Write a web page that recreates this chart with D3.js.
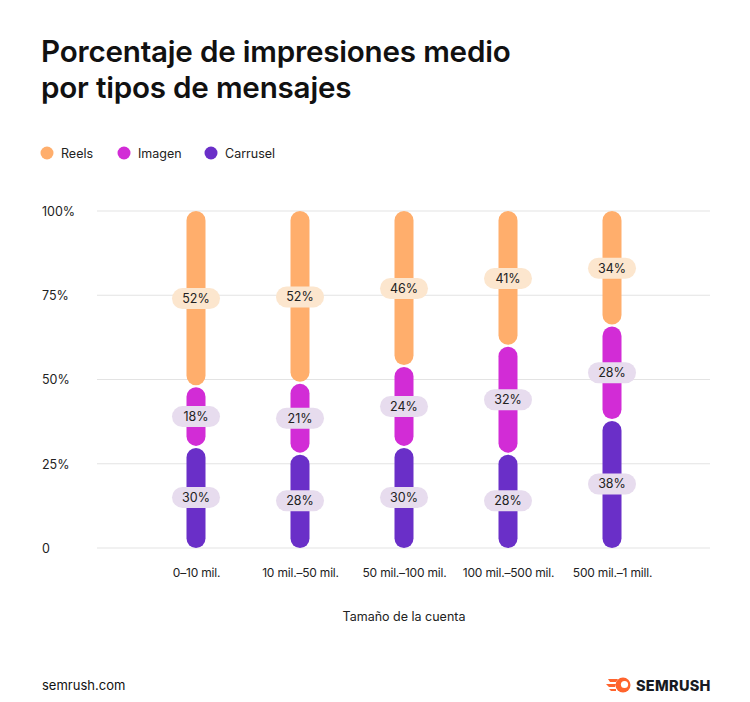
<!DOCTYPE html>
<html>
<head>
<meta charset="utf-8">
<script src="https://cdn.jsdelivr.net/npm/d3@7"></script>
<style>
  html, body { margin: 0; padding: 0; background: #fff; }
  svg { display: block; font-family: Inter, "Noto Sans", sans-serif; }
</style>
</head>
<body>
<svg id="chart" width="750" height="702"></svg>
<script>
const categories = ["0–10 mil.", "10 mil.–50 mil.", "50 mil.–100 mil.", "100 mil.–500 mil.", "500 mil.–1 mill."];
const seriesNames = ["Reels", "Imagen", "Carrusel"];
const reels = [52, 52, 46, 41, 34];
const imagen = [18, 21, 24, 32, 28];
const carrusel = [30, 28, 30, 28, 38];
const yTicks = [0, 25, 50, 75, 100];
const yTickLabels = ["0", "25%", "50%", "75%", "100%"];

const colors = { Reels: "#FFAE6C", Imagen: "#D22CD6", Carrusel: "#6A2FC8" };
const labelBg = { Reels: "#FCE6CE", Imagen: "#E7DCEE", Carrusel: "#E7DCEE" };

const svg = d3.select("#chart");

// Title
svg.append("text").attr("x", 41).attr("y", 62)
  .attr("font-size", 29.6).attr("font-weight", 600).attr("fill", "#111")
  .attr("letter-spacing", -0.2)
  .text("Porcentaje de impresiones medio");
svg.append("text").attr("x", 41).attr("y", 98)
  .attr("font-size", 29.6).attr("font-weight", 600).attr("fill", "#111")
  .attr("letter-spacing", -0.2)
  .text("por tipos de mensajes");

// Legend
const legendX = [47, 124, 211];
seriesNames.forEach((s, i) => {
  const g = svg.append("g").attr("transform", `translate(${legendX[i]},153)`);
  g.append("circle").attr("r", 6.5).attr("fill", colors[s]);
  g.append("text").attr("x", 14).attr("y", 4.5).attr("font-size", 12.5).attr("fill", "#222").text(s);
});

// Scales
const x = d3.scalePoint().domain(categories).range([196, 612]);
const y = d3.scaleLinear().domain([0, 100]).range([548, 211]);

// Grid
const grid = svg.append("g");
grid.selectAll("line").data(yTicks).join("line")
  .attr("x1", 97).attr("x2", 710)
  .attr("y1", d => y(d)).attr("y2", d => y(d))
  .attr("stroke", "#e3e3e3").attr("stroke-width", 1.2);

// Y axis labels
const yAxis = d3.axisLeft(y).tickValues(yTicks).tickFormat((d, i) => yTickLabels[i]).tickSize(0);
const yg = svg.append("g").attr("transform", "translate(42,0)").call(yAxis);
yg.select(".domain").remove();
yg.selectAll("text").attr("text-anchor", "start").attr("x", 0).attr("dy", "0.35em")
  .attr("font-size", 12.5).attr("fill", "#222").attr("font-family", "Inter, 'Noto Sans', sans-serif");

// X axis labels
const xAxis = d3.axisBottom(x).tickSize(0);
const xg = svg.append("g").attr("transform", "translate(0,567)").call(xAxis);
xg.select(".domain").remove();
xg.selectAll("text").attr("font-size", 12).attr("fill", "#222").attr("dy", "0.6em")
  .attr("font-family", "Inter, 'Noto Sans', sans-serif").attr("letter-spacing", -0.2);

// Axis title
svg.append("text").attr("x", 404).attr("y", 621).attr("text-anchor", "middle")
  .attr("font-size", 12.5).attr("fill", "#222").text("Tamaño de la cuenta");

// Stack data
const rows = categories.map((c, i) => ({ cat: c, Reels: reels[i], Imagen: imagen[i], Carrusel: carrusel[i] }));
const stack = d3.stack().keys(["Carrusel", "Imagen", "Reels"]);
const stacked = stack(rows);

const barW = 19;
const gap = 1;
const segs = [];
stacked.forEach(layer => {
  layer.forEach(d => {
    const y0 = d[0], y1 = Math.min(d[1], 100);
    segs.push({ key: layer.key, cat: d.data.cat, y0, y1, value: d.data[layer.key] });
  });
});

const bars = svg.append("g");
bars.selectAll("rect").data(segs).join("rect")
  .attr("x", d => x(d.cat) - barW / 2)
  .attr("width", barW)
  .attr("y", d => y(d.y1) + (d.y1 < 100 ? gap : 0))
  .attr("height", d => y(d.y0) - y(d.y1) - (d.y1 < 100 ? gap : 0) - (d.y0 > 0 ? gap : 0))
  .attr("rx", barW / 2)
  .attr("fill", d => colors[d.key]);

// Labels
const lw = 48, lh = 21;
const lab = svg.append("g").selectAll("g").data(segs).join("g")
  .attr("transform", d => `translate(${x(d.cat)},${y((d.y0 + d.y1) / 2)})`);
lab.append("rect").attr("x", -lw / 2).attr("y", -lh / 2).attr("width", lw).attr("height", lh)
  .attr("rx", lh / 2).attr("fill", d => labelBg[d.key]);
lab.append("text").attr("text-anchor", "middle").attr("dy", "0.36em")
  .attr("font-size", 12.5).attr("fill", "#222").text(d => d.value + "%");

// Footer
svg.append("text").attr("x", 42).attr("y", 690).attr("font-size", 13).attr("fill", "#111").text("semrush.com");

// Logo
const logo = svg.append("g").attr("transform", "translate(606,685)");
logo.append("path")
  .attr("d", "M2,-6 L12,-6 L10,-3 L4,-3 Z M0,-1 L10,-1 L9,2 L3,2 Z M3,4 L10,4 L10,6 L5,6 Z")
  .attr("fill", "#FF642D");
logo.append("circle").attr("cx", 17).attr("cy", 0).attr("r", 7.5).attr("fill", "#FF642D");
logo.append("circle").attr("cx", 18.5).attr("cy", -0.5).attr("r", 3.6).attr("fill", "#fff");
logo.append("text").attr("x", 30).attr("y", 5.5).attr("font-size", 14.5).attr("font-weight", 800)
  .attr("fill", "#171A22").attr("letter-spacing", 0.3).text("SEMRUSH");
</script>
</body>
</html>
